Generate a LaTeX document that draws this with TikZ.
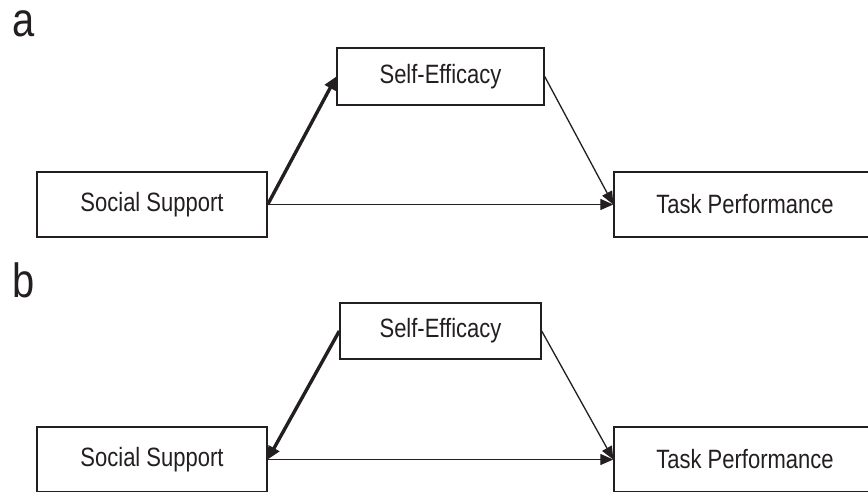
\documentclass[tikz,border=0pt]{standalone}
\usepackage{fontspec}
\setmainfont{Liberation Sans}[FakeStretch=0.83]
\usetikzlibrary{arrows.meta}
\definecolor{ink}{HTML}{231F20}
\begin{document}
\begin{tikzpicture}[x=1pt,y=-1pt,
  varbox/.style={draw=ink, line width=1.4pt, rectangle, inner sep=0pt,
    text=ink, font=\fontsize{26.5}{30}\selectfont},
  panellabel/.style={anchor=base west, inner sep=0pt, text=ink,
    font=\fontsize{48}{52}\selectfont},
  pathline/.style={draw=ink, line width=1.3pt,
    -{Triangle[length=13pt,width=11pt]}},
  strongline/.style={draw=ink, line width=3.4pt,
    -{Triangle[length=13pt,width=12pt]}}]
\useasboundingbox (0,0) rectangle (868,491);
\clip (0,0) rectangle (868,491);

% panel a: social support -> self-efficacy -> task performance
\node[panellabel] (labA) at (12.5,36.5) {a};
\node[varbox, minimum width=230pt, minimum height=65pt] (ssA) at (152,204.5) {Social Support};
\node[varbox, minimum width=207pt, minimum height=57pt] (seA) at (440.5,76.5) {Self-Efficacy};
\node[varbox, minimum width=262pt, minimum height=65pt] (tpA) at (745,204.5) {Task Performance};
\draw[strongline] (ssA.east) -- (seA.west);
\draw[pathline] (ssA.east) -- (tpA.west);
\draw[pathline] (seA.east) -- (tpA.west);

% panel b: self-efficacy -> social support
\node[panellabel] (labB) at (12.5,297.5) {b};
\node[varbox, minimum width=201pt, minimum height=56pt] (seB) at (440.5,331) {Self-Efficacy};
\node[varbox, minimum width=230pt, minimum height=65pt] (ssB) at (152,459.5) {Social Support};
\node[varbox, minimum width=262pt, minimum height=65pt] (tpB) at (745,459.5) {Task Performance};
\draw[strongline] (seB.west) -- (ssB.east);
\draw[pathline] (ssB.east) -- (tpB.west);
\draw[pathline] (seB.east) -- (tpB.west);
\end{tikzpicture}
\end{document}
